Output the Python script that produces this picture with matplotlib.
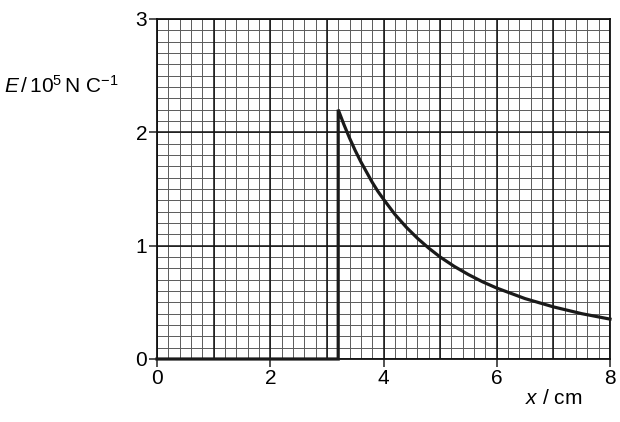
import numpy as np
import matplotlib
matplotlib.use('Agg')
import matplotlib.pyplot as plt

plt.rcParams['font.family'] = ['Liberation Sans', 'DejaVu Sans']
plt.rcParams['mathtext.fontset'] = 'custom'
plt.rcParams['mathtext.rm'] = 'Liberation Sans'
plt.rcParams['mathtext.it'] = 'Liberation Sans:italic'

# field strength (x in cm, E in 10^5 N/C)
x_cm = [0, 3.2, 3.2, 3.3, 3.4, 3.5, 3.6, 3.7, 3.8, 3.9, 4.0, 4.2, 4.4, 4.6, 4.8,
        5.0, 5.25, 5.5, 5.75, 6.0, 6.5, 7.0, 7.5, 8.0]
e_field = [0, 0, 2.2, 2.07, 1.95, 1.84, 1.74, 1.65, 1.56, 1.48, 1.41, 1.277, 1.164, 1.065, 0.978,
           0.90, 0.817, 0.745, 0.681, 0.626, 0.533, 0.46, 0.40, 0.352]

x_ticks = [0, 2, 4, 6, 8]
y_ticks = [0, 1, 2, 3]

fig = plt.figure(figsize=(6.2, 4.22), dpi=100)
ax = fig.add_axes([157 / 620, 1 - 359 / 422, 453 / 620, 340 / 422])

# graph paper
for gx in np.arange(0, 8.01, 0.2):
    ax.axvline(gx, color='#5a5a5a', lw=0.7, zorder=1)
for gy in np.arange(0, 3.001, 0.1):
    ax.axhline(gy, color='#5a5a5a', lw=0.7, zorder=1)
for gx in range(0, 9):
    ax.axvline(gx, color='#111111', lw=1.1, zorder=2)
for gy in range(0, 4):
    ax.axhline(gy, color='#111111', lw=1.1, zorder=2)

ax.plot(x_cm, e_field, color='#1a1a1a', lw=2.3, zorder=5, clip_on=False,
        solid_joinstyle='miter')

ax.set_xlim(0, 8)
ax.set_ylim(0, 3)
ax.set_xticks(x_ticks)
ax.set_yticks(y_ticks)
ax.set_xticklabels([str(v) for v in x_ticks])
ax.set_yticklabels([str(v) for v in y_ticks])
ax.tick_params(axis='both', direction='out', length=6, width=1.1,
               labelsize=15, color='#222222', pad=1)
for s in ax.spines.values():
    s.set_linewidth(1.3)
    s.set_color('#111111')

fig.text(4 / 620, 1 - 86 / 422, r'$E\,/\,$10$^5\,$N C$^{-1}$', fontsize=15,
         ha='left', va='center')
fig.text(554 / 620, 1 - 398 / 422, r'$x$ / cm', fontsize=15,
         ha='center', va='center')

fig.savefig('out.png', dpi=100)
